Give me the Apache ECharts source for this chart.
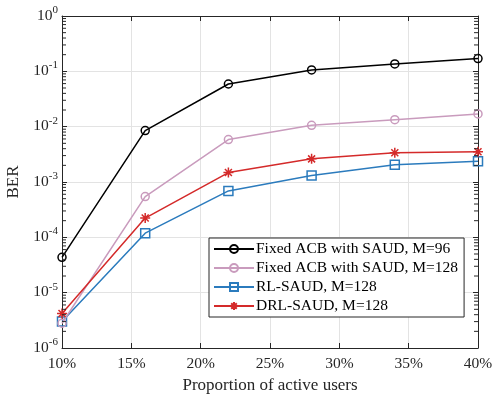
<!DOCTYPE html>
<html>
<head>
<meta charset="utf-8">
<script src="https://cdn.jsdelivr.net/npm/echarts@6/dist/echarts.min.js"></script>
<style>
  html, body { margin: 0; padding: 0; background: #fff; }
  #chart { width: 492px; height: 396px; }
</style>
</head>
<body>
<div id="chart"></div>
<script>
// proportion of active users (%)
const proportions = [10, 16, 22, 28, 34, 40];
const fixedAcb96 = [4.35e-5, 8.5e-3, 0.059, 0.106, 0.136, 0.170];
const fixedAcb128 = [2.8e-6, 5.45e-4, 5.85e-3, 0.0106, 0.0134, 0.0170];
const rlSaud = [3.0e-6, 1.19e-4, 6.9e-4, 1.31e-3, 2.04e-3, 2.38e-3];
const drlSaud = [4.2e-6, 2.23e-4, 1.48e-3, 2.62e-3, 3.37e-3, 3.51e-3];
const seriesNames = [
  "Fixed ACB with SAUD, M=96",
  "Fixed ACB with SAUD, M=128",
  "RL-SAUD, M=128",
  "DRL-SAUD, M=128"
];
const xTicks = [10, 15, 20, 25, 30, 35, 40];

// minor log ticks 2..9 x 10^k
const minorTicks = [];
for (let k = -6; k < 0; k++) {
  for (let m = 2; m <= 9; m++) minorTicks.push(m * Math.pow(10, k));
}

const FONT = "'Liberation Serif', 'DejaVu Serif', serif";
const AXIS = "#262626";
const GRIDC = "#e3e3e3";

function pair(xs, ys) { return xs.map((x, i) => [x, ys[i]]); }

const asterisk = "path://M0,-10L0,10M-10,0L10,0M-7,-7L7,7M-7,7L7,-7";

const chart = echarts.init(document.getElementById("chart"), null, { renderer: "canvas" });

const xBase = {
  type: "value", min: xTicks[0], max: xTicks[xTicks.length - 1], interval: 5,
  axisLine: { show: true, lineStyle: { color: AXIS, width: 1 } },
  axisTick: { show: true, inside: true, length: 5, lineStyle: { color: AXIS } },
};
const yBase = {
  type: "log", logBase: 10, min: 1e-6, max: 1,
  axisLine: { show: true, lineStyle: { color: AXIS, width: 1 } },
  axisTick: { show: true, inside: true, length: 5, lineStyle: { color: AXIS } },
};

// small dashes standing in for MATLAB's log minor ticks (left and right box edges)
function minorTickSeries(xVal, offset) {
  return {
    type: "scatter", silent: true, clip: false,
    data: minorTicks.map(v => [xVal, v]),
    symbol: "rect", symbolSize: [4, 1], symbolOffset: [offset, 0],
    itemStyle: { color: AXIS, opacity: 1 },
    z: 10
  };
}

chart.setOption({
  animation: false,
  grid: { left: 62, right: 14, top: 16, bottom: 48, containLabel: false, outerBoundsMode: "none" },
  legend: {
    data: seriesNames,
    orient: "vertical",
    left: 209, top: 238,
    backgroundColor: "#fff",
    borderColor: AXIS, borderWidth: 1,
    padding: [3, 6, 3, 4],
    itemGap: 3,
    itemWidth: 40, itemHeight: 10,
    textStyle: { fontFamily: FONT, fontSize: 15.5, color: "#000", padding: [0, 0, 0, -3] }
  },
  xAxis: [
    Object.assign({}, xBase, {
      position: "bottom",
      name: "Proportion of active users", nameLocation: "middle", nameGap: 29,
      nameTextStyle: { fontFamily: FONT, fontSize: 17, color: "#262626" },
      axisLabel: { fontFamily: FONT, fontSize: 15.5, color: "#262626", margin: 8, formatter: "{value}%" },
      splitLine: { show: true, lineStyle: { color: GRIDC, width: 1 } }
    }),
    Object.assign({}, xBase, {
      position: "top", axisLabel: { show: false }, splitLine: { show: false }
    })
  ],
  yAxis: [
    Object.assign({}, yBase, {
      position: "left",
      name: "BER", nameLocation: "middle", nameGap: 37,
      nameTextStyle: { fontFamily: FONT, fontSize: 17, color: "#262626" },
      axisLabel: {
        margin: 4,
        formatter: v => "{b|10}{s|" + Math.round(Math.log10(v)) + "}",
        rich: {
          b: { fontFamily: FONT, fontSize: 15.5, color: "#262626", verticalAlign: "bottom", lineHeight: 15 },
          s: { fontFamily: FONT, fontSize: 11, color: "#262626", verticalAlign: "bottom", lineHeight: 11, padding: [0, 0, 8, 0] }
        }
      },
      splitLine: { show: true, lineStyle: { color: GRIDC, width: 1 } }
    }),
    Object.assign({}, yBase, {
      position: "right", axisLabel: { show: false }, splitLine: { show: false }
    })
  ],
  series: [
    minorTickSeries(xTicks[0], 2),
    minorTickSeries(xTicks[xTicks.length - 1], -2),
    {
      name: seriesNames[0], type: "line", data: pair(proportions, fixedAcb96),
      symbol: "circle", symbolSize: 8,
      lineStyle: { color: "#000", width: 1.5 },
      itemStyle: { color: "rgba(255,255,255,0)", borderColor: "#000", borderWidth: 1.5 },
      z: 5
    },
    {
      name: seriesNames[1], type: "line", data: pair(proportions, fixedAcb128),
      symbol: "circle", symbolSize: 8,
      lineStyle: { color: "#c99bbd", width: 1.5 },
      itemStyle: { color: "rgba(255,255,255,0)", borderColor: "#c99bbd", borderWidth: 1.5 },
      z: 4
    },
    {
      name: seriesNames[2], type: "line", data: pair(proportions, rlSaud),
      symbol: "rect", symbolSize: 9,
      lineStyle: { color: "#2b7bbd", width: 1.5 },
      itemStyle: { color: "rgba(255,255,255,0)", borderColor: "#2b7bbd", borderWidth: 1.5 },
      z: 3
    },
    {
      name: seriesNames[3], type: "line", data: pair(proportions, drlSaud),
      symbol: asterisk, symbolSize: 10,
      lineStyle: { color: "#d42a2a", width: 1.5 },
      itemStyle: { color: "#d42a2a", borderColor: "#d42a2a", borderWidth: 1.5 },
      z: 6
    }
  ]
});
</script>
</body>
</html>
